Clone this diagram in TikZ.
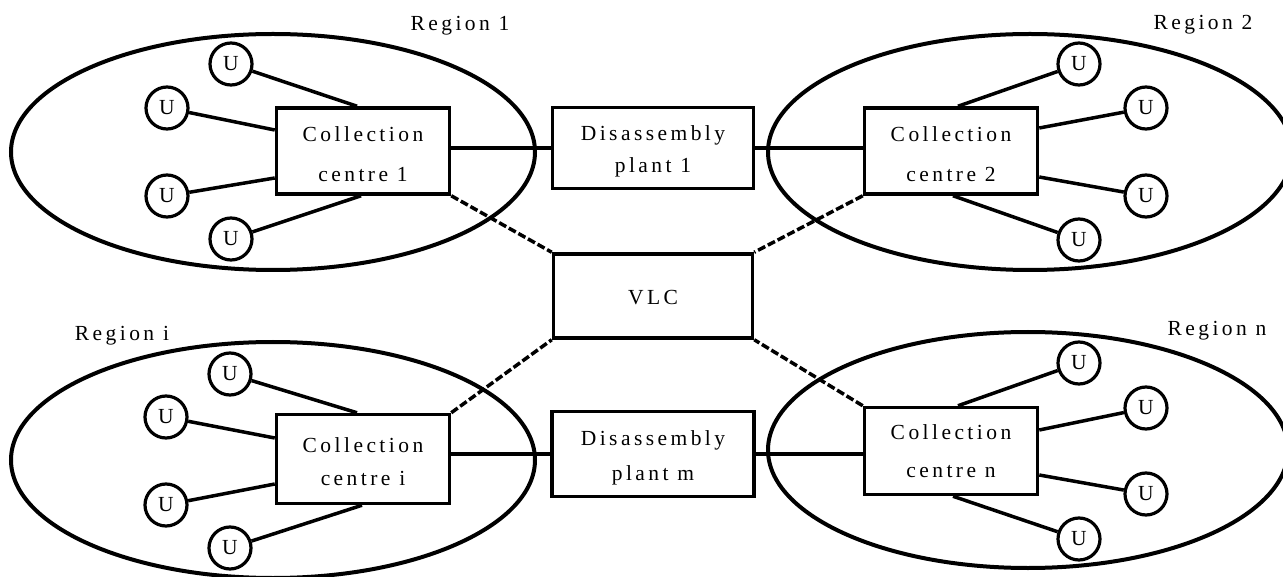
\documentclass[tikz,border=0pt]{standalone}
\usepackage{fontspec}
\setmainfont{Liberation Serif}[LetterSpace=16]
\usetikzlibrary{shapes.geometric,calc}
\newcommand\lsfont[1]{\fontsize{21.5pt}{#1pt}\selectfont}
\newcommand\upstrut[1]{\rule{0pt}{#1pt}}
\begin{document}
\begin{tikzpicture}[x=1pt,y=-1pt,
  region/.style={draw, ellipse, line width=4pt, inner sep=0pt, minimum width=524pt, minimum height=236pt},
  ubox/.style={draw, circle, fill=white, line width=3.2pt, inner sep=0pt, minimum size=42pt, font=\lsfont{24}},
  centrebox/.style={draw, fill=white, line width=3.5pt, inner sep=0pt, align=center, minimum width=173pt, minimum height=86pt},
  link/.style={line width=3.5pt},
  vlink/.style={line width=3.5pt, dash pattern=on 8pt off 3pt},
  rlabel/.style={anchor=base, inner sep=0pt, font=\lsfont{24}}
]
\useasboundingbox (0,0) rectangle (1283,577);
% regions
\node[region] (R1) at (273,152) {};
\node[region] (R2) at (1030,152) {};
\node[region] (Ri) at (273,460) {};
\node[region, minimum width=520pt] (Rn) at (1028,450) {};
% region labels
\node[rlabel] (L1) at (460,31) {Region 1};
\node[rlabel] (L2) at (1203,30) {Region 2};
\node[rlabel] (Li) at (122,341) {Region i};
\node[rlabel] (Ln) at (1217,336) {Region n};
% boxes
\node[centrebox, font=\lsfont{40}] (C1) at (363,151) {\upstrut{22}Collection\\centre 1};
\node[centrebox, font=\lsfont{40}] (C2) at (951,151) {\upstrut{22}Collection\\centre 2};
\node[centrebox, minimum height=89pt, font=\lsfont{33}] (Ci) at (363,459) {\upstrut{21}Collection\\centre i};
\node[centrebox, minimum height=87pt, font=\lsfont{38}] (Cn) at (951,451) {Collection\\centre n};
\node[centrebox, minimum width=201pt, minimum height=81pt, font=\lsfont{32}] (D1) at (653,148) {\upstrut{20.7}Disassembly\\plant 1};
\node[centrebox, minimum width=199pt, minimum height=84pt, font=\lsfont{32}] (V) at (653,296) {\upstrut{18.2}VLC};
\node[centrebox, minimum width=202pt, minimum height=85pt, font=\lsfont{35}] (Dm) at (653,454) {\upstrut{21.7}Disassembly\\plant m};
% users
\node[ubox] (U11) at (231,64) {U};
\node[ubox] (U12) at (167,108) {U};
\node[ubox] (U13) at (167,196) {U};
\node[ubox] (U14) at (231,239) {U};
\node[ubox] (U21) at (1079,64) {U};
\node[ubox] (U22) at (1146,108) {U};
\node[ubox] (U23) at (1146,196) {U};
\node[ubox] (U24) at (1079,240) {U};
\node[ubox] (Ui1) at (230,374) {U};
\node[ubox] (Ui2) at (166,417) {U};
\node[ubox] (Ui3) at (166,505) {U};
\node[ubox] (Ui4) at (230,548) {U};
\node[ubox] (Un1) at (1079,363) {U};
\node[ubox] (Un2) at (1146,408) {U};
\node[ubox] (Un3) at (1146,494) {U};
\node[ubox] (Un4) at (1079,539) {U};
% user links
\draw[link] (U11) -- ($(C1.north)+(-6,0)$);
\draw[link] (U12) -- ($(C1.west)+(0,-21)$);
\draw[link] (U13) -- ($(C1.west)+(0,27)$);
\draw[link] (U14) -- ($(C1.south)+(-2,0)$);
\draw[link] (U21) -- ($(C2.north)+(7,0)$);
\draw[link] (U22) -- ($(C2.east)+(0,-23)$);
\draw[link] (U23) -- ($(C2.east)+(0,26)$);
\draw[link] (U24) -- ($(C2.south)+(2,0)$);
\draw[link] (Ui1) -- ($(Ci.north)+(-6,0)$);
\draw[link] (Ui2) -- ($(Ci.west)+(0,-21)$);
\draw[link] (Ui3) -- ($(Ci.west)+(0,25)$);
\draw[link] (Ui4) -- ($(Ci.south)+(-1,0)$);
\draw[link] (Un1) -- ($(Cn.north)+(7,0)$);
\draw[link] (Un2) -- ($(Cn.east)+(0,-21)$);
\draw[link] (Un3) -- ($(Cn.east)+(0,24)$);
\draw[link] (Un4) -- ($(Cn.south)+(2,0)$);
% centre - plant links
\draw[link] (C1.east |- D1.west) -- (D1.west);
\draw[link] (D1.east) -- (C2.west |- D1.east);
\draw[link] (Ci.east |- Dm.west) -- (Dm.west);
\draw[link] (Dm.east) -- (Cn.west |- Dm.east);
% VLC links
\draw[vlink] (C1.south east) -- (V.north west);
\draw[vlink] (C2.south west) -- (V.north east);
\draw[vlink] (Ci.north east) -- (V.south west);
\draw[vlink] (Cn.north west) -- (V.south east);
\end{tikzpicture}
\end{document}
